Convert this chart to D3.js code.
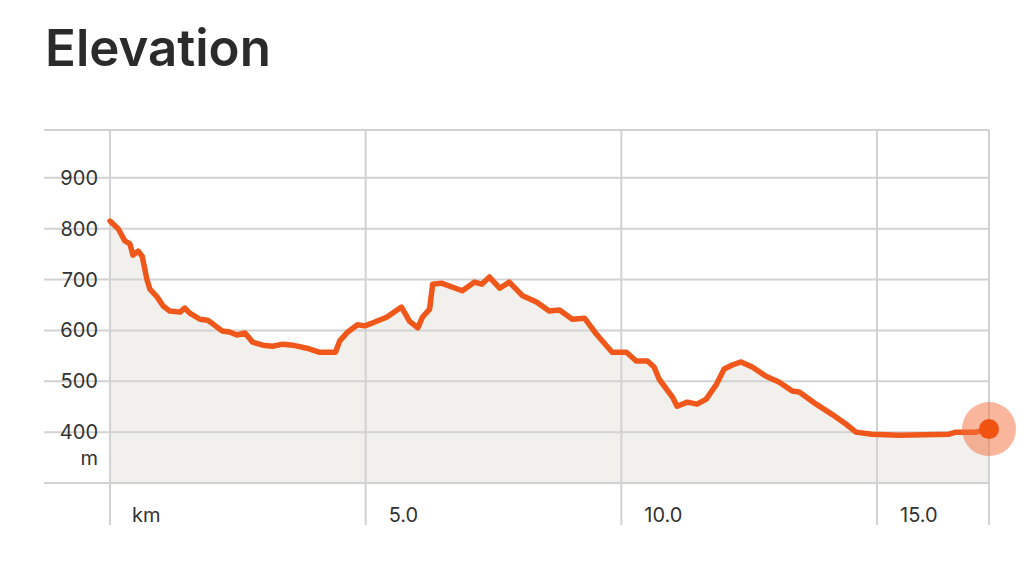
<!DOCTYPE html>
<html>
<head>
<meta charset="utf-8">
<script src="https://cdn.jsdelivr.net/npm/d3@7"></script>
<style>
  html, body { margin: 0; padding: 0; background: #fff; }
  svg text { font-family: Inter, "Noto Sans", sans-serif; fill: #333; }
</style>
</head>
<body>
<svg id="chart" width="1024" height="574"></svg>
<script>
// distance along the route (km) and elevation (m)
const distKm = [0.00, 0.16, 0.29, 0.39, 0.45, 0.55, 0.63, 0.72, 0.78, 0.92, 1.04, 1.17, 1.37, 1.46, 1.56, 1.76, 1.91, 2.01, 2.19, 2.34, 2.48, 2.64, 2.79, 2.99, 3.18, 3.38, 3.57, 3.85, 4.10, 4.34, 4.41, 4.49, 4.65, 4.84, 4.98, 5.14, 5.41, 5.70, 5.86, 6.02, 6.11, 6.25, 6.31, 6.48, 6.89, 7.13, 7.27, 7.42, 7.62, 7.81, 8.07, 8.34, 8.59, 8.79, 9.04, 9.28, 9.51, 9.82, 10.10, 10.29, 10.51, 10.64, 10.74, 11.00, 11.09, 11.29, 11.48, 11.66, 11.86, 12.01, 12.17, 12.34, 12.56, 12.83, 13.09, 13.34, 13.48, 13.81, 14.12, 14.39, 14.59, 14.90, 15.43, 16.41, 16.54, 16.93, 17.19];
const elevM = [815, 800, 776, 770, 748, 756, 746, 701, 681, 666, 648, 638, 636, 644, 634, 622, 620, 613, 599, 597, 591, 595, 577, 571, 569, 573, 571, 565, 557, 557, 557, 579, 597, 611, 609, 615, 626, 646, 618, 605, 626, 642, 691, 693, 678, 695, 691, 705, 683, 695, 668, 656, 638, 640, 622, 624, 593, 557, 557, 540, 540, 528, 504, 469, 451, 459, 455, 465, 494, 524, 532, 538, 528, 510, 498, 481, 479, 455, 435, 416, 400, 396, 394, 396, 400, 400, 406];

const yTicks = [400, 500, 600, 700, 800, 900];
const xTicks = [5, 10, 15];
const xTickLabels = ["5.0", "10.0", "15.0"];

const svg = d3.select("#chart");

// ── title ──
svg.append("text")
  .attr("x", 45).attr("y", 66)
  .attr("font-size", 51).attr("font-weight", 600)
  .style("fill", "#2b2b2b")
  .text("Elevation");

const x = d3.scaleLinear().domain([0, 17.19]).range([110, 989]);
const y = d3.scaleLinear().domain([300, 1000]).range([483, 127]);

const data = distKm.map((d, i) => ({ km: d, m: elevM[i] }));

// ── area fill ──
const area = d3.area()
  .x(d => x(d.km))
  .y0(y(300))
  .y1(d => y(d.m));

svg.append("path")
  .datum(data)
  .attr("d", area)
  .attr("fill", "#f1f0ed");

// ── grid ──
const gridY = [300, ...yTicks, 994];
svg.append("g")
  .selectAll("line")
  .data(gridY)
  .join("line")
  .attr("x1", 44).attr("x2", 989)
  .attr("y1", d => y(d)).attr("y2", d => y(d))
  .attr("stroke", "#d2d2d2").attr("stroke-width", 2);

const gridX = [0, ...xTicks, 17.19];
svg.append("g")
  .selectAll("line")
  .data(gridX)
  .join("line")
  .attr("x1", d => x(d)).attr("x2", d => x(d))
  .attr("y1", y(994)).attr("y2", 525)
  .attr("stroke", "#d2d2d2").attr("stroke-width", 2);

// ── y labels ──
svg.append("g")
  .selectAll("text")
  .data(yTicks)
  .join("text")
  .attr("x", 98).attr("y", d => y(d) + 7)
  .attr("text-anchor", "end")
  .attr("font-size", 20)
  .text(d => d);

svg.append("text")
  .attr("x", 98).attr("y", y(400) + 33)
  .attr("text-anchor", "end")
  .attr("font-size", 20)
  .text("m");

// ── x labels ──
svg.append("text")
  .attr("x", x(0) + 22).attr("y", 522)
  .attr("font-size", 20)
  .text("km");

svg.append("g")
  .selectAll("text")
  .data(xTicks)
  .join("text")
  .attr("x", d => x(d) + 23).attr("y", 522)
  .attr("font-size", 20)
  .text((d, i) => xTickLabels[i]);

// ── elevation line ──
const line = d3.line()
  .x(d => x(d.km))
  .y(d => y(d.m));

svg.append("path")
  .datum(data)
  .attr("d", line)
  .attr("fill", "none")
  .attr("stroke", "#f0571a")
  .attr("stroke-width", 5.5)
  .attr("stroke-linejoin", "round")
  .attr("stroke-linecap", "round");

// ── end marker ──
const last = data[data.length - 1];
svg.append("circle")
  .attr("cx", x(last.km)).attr("cy", y(last.m))
  .attr("r", 27)
  .attr("fill", "rgba(244, 110, 60, 0.5)");
svg.append("circle")
  .attr("cx", x(last.km)).attr("cy", y(last.m))
  .attr("r", 10)
  .attr("fill", "#f0520f");
</script>
</body>
</html>
